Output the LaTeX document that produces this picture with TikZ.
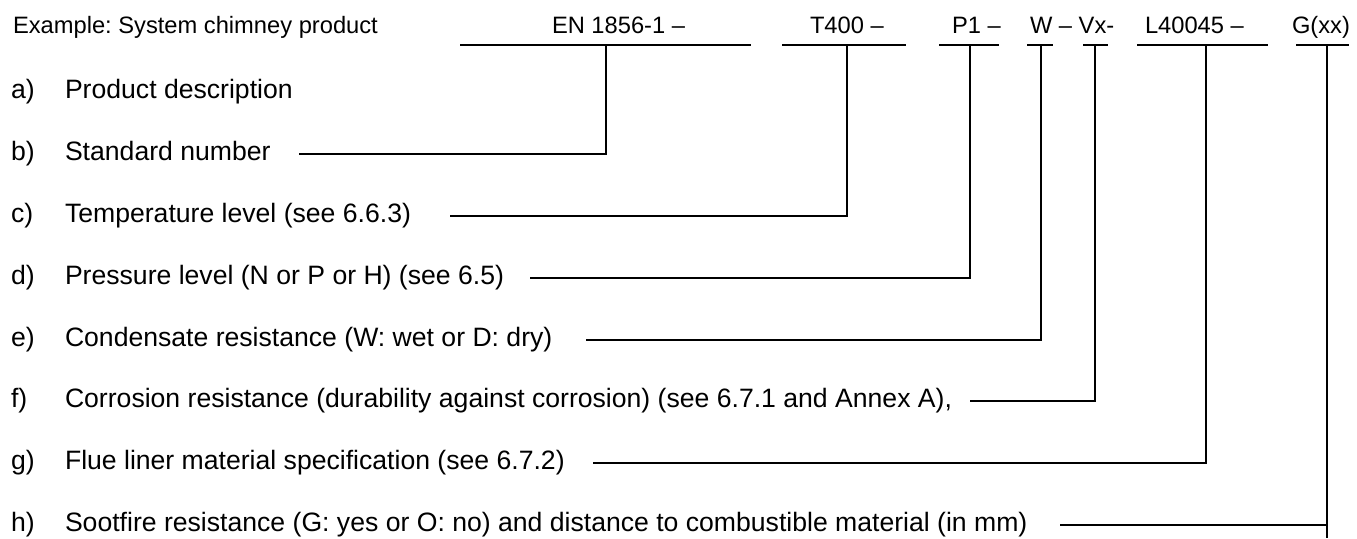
\documentclass[tikz,border=0pt]{standalone}
\usepackage{fontspec}
\setmainfont{Liberation Sans}
\frenchspacing
\begin{document}
\begin{tikzpicture}[x=1pt,y=-1pt,
  txt/.style={inner sep=0pt,outer sep=0pt,anchor=base west,font=\fontsize{23.7}{28}\selectfont},
  rowtxt/.style={inner sep=0pt,outer sep=0pt,anchor=base west,font=\fontsize{26.6}{31}\selectfont},
  ln/.style={line width=1.6pt,line cap=rect}]
\useasboundingbox (0,0) rectangle (1357,538);
% top row
\node[txt] (ex) at (13,33) {Example: System chimney product};
\node[txt] (en) at (552,33) {EN 1856-1 –};
\node[txt] (t) at (810,33) {T400 –};
\node[txt] (p) at (952,33) {P1 –};
\node[txt] (wv) at (1030,33) {W – Vx-};
\node[txt] (l) at (1145,33) {L40045 –};
\node[txt] (g) at (1292,33) {G(xx)};
% row labels
\foreach \lab/\ty/\name in {a)/98/la, b)/160/lb, c)/222/lc, d)/284/ld, e)/346/le, f)/407/lf, g)/469/lg, h)/531/lh}{
  \node[rowtxt] (\name) at (11,\ty) {\lab};
}
\node[rowtxt] (ta) at (65,98) {Product description};
\node[rowtxt] (tb) at (65,160) {Standard number};
\node[rowtxt] (tc) at (65,222) {Temperature level (see 6.6.3)};
\node[rowtxt] (td) at (65,284) {Pressure level (N or P or H) (see 6.5)};
\node[rowtxt] (te) at (65,346) {Condensate resistance (W: wet or D: dry)};
\node[rowtxt] (tf) at (65,407) {Corrosion resistance (durability against corrosion) (see 6.7.1 and Annex A),};
\node[rowtxt] (tg) at (65,469) {Flue liner material specification (see 6.7.2)};
\node[rowtxt] (th) at (65,531) {Sootfire resistance (G: yes or O: no) and distance to combustible material (in mm)};
% underline coordinates
\coordinate (u1a) at (461,45); \coordinate (u1b) at (750,45); \coordinate (u1) at (606,45);
\coordinate (u2a) at (783,45); \coordinate (u2b) at (905,45); \coordinate (u2) at (847,45);
\coordinate (u3a) at (940,45); \coordinate (u3b) at (998,45); \coordinate (u3) at (970,45);
\coordinate (u4a) at (1028,45); \coordinate (u4b) at (1052,45); \coordinate (u4) at (1041,45);
\coordinate (u5a) at (1084,45); \coordinate (u5b) at (1107,45); \coordinate (u5) at (1095,45);
\coordinate (u6a) at (1138,45); \coordinate (u6b) at (1267,45); \coordinate (u6) at (1206,45);
\coordinate (u7a) at (1297,45); \coordinate (u7b) at (1348,45); \coordinate (u7) at (1327,45);
% row line starts
\coordinate (sb) at (300,154);
\coordinate (sc) at (451,216);
\coordinate (sd) at (531,278);
\coordinate (se) at (587,340);
\coordinate (sf) at (971,401);
\coordinate (sg) at (594,463);
\coordinate (sh) at (1061,525);
\foreach \i in {1,...,7}{\draw[ln] (u\i a) -- (u\i b);}
\draw[ln] (sb) -| (u1);
\draw[ln] (sc) -| (u2);
\draw[ln] (sd) -| (u3);
\draw[ln] (se) -| (u4);
\draw[ln] (sf) -| (u5);
\draw[ln] (sg) -| (u6);
\draw[ln] (sh) -| (u7);
\coordinate (gEnd) at (1327,537);
\draw[ln] (u7) -- (gEnd);
\end{tikzpicture}
\end{document}
